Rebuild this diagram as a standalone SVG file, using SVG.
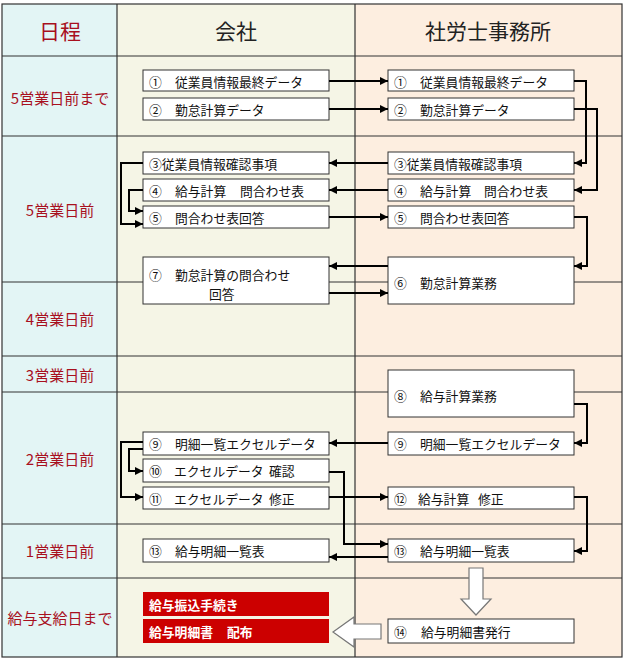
<svg xmlns="http://www.w3.org/2000/svg" width="628" height="660" viewBox="0 0 628 660">
<defs>
<style>
text{font-family:"Noto Sans CJK JP","Noto Sans",sans-serif;}
.grid{stroke:#333;stroke-width:1.2;fill:none;}
.box{fill:#fff;stroke:#333;stroke-width:1;}
.red{fill:#cc0000;stroke:none;}
.t{font-size:12.8px;fill:#111;dominant-baseline:central;}
.tw{font-size:12.8px;fill:#fff;font-weight:bold;dominant-baseline:central;}
.hd{font-size:21px;fill:#222;text-anchor:middle;dominant-baseline:central;}
.day{font-size:15px;fill:#a8101e;text-anchor:middle;dominant-baseline:central;}
.con{stroke:#000;stroke-width:2;fill:none;marker-end:url(#ah);}
.hollow{fill:#fff;stroke:#777;stroke-width:1.2;}
</style>
<marker id="ah" viewBox="0 0 10 10" refX="10" refY="5" markerUnits="userSpaceOnUse" markerWidth="8" markerHeight="10" orient="auto">
<path d="M0,0 L10,5 L0,10 z" fill="#000"/>
</marker>
</defs>

<g id="table">
<rect x="2" y="4" width="115" height="653" fill="#e3f5f5"/>
<rect x="117" y="4" width="238" height="653" fill="#f5f5e6"/>
<rect x="355" y="4" width="267" height="653" fill="#fdeee0"/>
<rect x="2" y="4" width="620" height="653" class="grid"/>
<path class="grid" d="M117,4 V657 M355,4 V657 M2,56 H622 M2,136 H622 M2,282 H622 M2,356 H622 M2,392 H622 M2,524 H622 M2,578 H622"/>
<text class="hd" x="60" y="30" style="fill:#a8101e">日程</text>
<text class="hd" x="236" y="30">会社</text>
<text class="hd" x="488" y="30">社労士事務所</text>
<text class="day" x="60" y="97">5営業日前まで</text>
<text class="day" x="60" y="209">5営業日前</text>
<text class="day" x="60" y="318">4営業日前</text>
<text class="day" x="60" y="374">3営業日前</text>
<text class="day" x="60" y="458">2営業日前</text>
<text class="day" x="60" y="550">1営業日前</text>
<text class="day" x="60" y="617">給与支給日まで</text>
</g>

<g id="c1"><rect class="box" x="143" y="70" width="186" height="21"/><text class="t" x="149" y="81">①</text><text class="t" x="175" y="81">従業員情報最終データ</text></g>
<g id="c2"><rect class="box" x="143" y="98" width="186" height="22"/><text class="t" x="149" y="109">②</text><text class="t" x="175" y="109">勤怠計算データ</text></g>
<g id="s1"><rect class="box" x="388" y="70" width="186" height="21"/><text class="t" x="394" y="81">①</text><text class="t" x="420" y="81">従業員情報最終データ</text></g>
<g id="s2"><rect class="box" x="388" y="98" width="186" height="22"/><text class="t" x="394" y="109">②</text><text class="t" x="420" y="109">勤怠計算データ</text></g>

<g id="c3"><rect class="box" x="143" y="152" width="186" height="22"/><text class="t" x="149" y="163">③従業員情報確認事項</text></g>
<g id="c4"><rect class="box" x="143" y="179" width="186" height="22"/><text class="t" x="149" y="190">④</text><text class="t" x="175" y="190">給与計算</text><text class="t" x="240" y="190">問合わせ表</text></g>
<g id="c5"><rect class="box" x="143" y="206" width="186" height="22"/><text class="t" x="149" y="217">⑤</text><text class="t" x="175" y="217">問合わせ表回答</text></g>
<g id="s3"><rect class="box" x="388" y="152" width="186" height="22"/><text class="t" x="394" y="163">③従業員情報確認事項</text></g>
<g id="s4"><rect class="box" x="388" y="179" width="186" height="22"/><text class="t" x="394" y="190">④</text><text class="t" x="420" y="190">給与計算</text><text class="t" x="484" y="190">問合わせ表</text></g>
<g id="s5"><rect class="box" x="388" y="206" width="186" height="22"/><text class="t" x="394" y="217">⑤</text><text class="t" x="420" y="217">問合わせ表回答</text></g>

<g id="c7"><rect class="box" x="143" y="257" width="186" height="47"/><text class="t" x="149" y="274">⑦</text><text class="t" x="175" y="274">勤怠計算の問合わせ</text><text class="t" x="209" y="293">回答</text></g>
<g id="s6"><rect class="box" x="388" y="257" width="186" height="47"/><text class="t" x="394" y="282">⑥</text><text class="t" x="420" y="282">勤怠計算業務</text></g>

<g id="s8"><rect class="box" x="388" y="370" width="186" height="47"/><text class="t" x="394" y="395">⑧</text><text class="t" x="420" y="395">給与計算業務</text></g>

<g id="c9"><rect class="box" x="143" y="432" width="186" height="23"/><text class="t" x="149" y="443">⑨</text><text class="t" x="175" y="443">明細一覧エクセルデータ</text></g>
<g id="s9"><rect class="box" x="388" y="432" width="186" height="23"/><text class="t" x="394" y="443">⑨</text><text class="t" x="420" y="443">明細一覧エクセルデータ</text></g>
<g id="c10"><rect class="box" x="143" y="459" width="186" height="23"/><text class="t" x="149" y="470">⑩</text><text class="t" x="174" y="470">エクセルデータ</text><text class="t" x="269" y="470">確認</text></g>
<g id="c11"><rect class="box" x="143" y="487" width="186" height="22"/><text class="t" x="149" y="498">⑪</text><text class="t" x="174" y="498">エクセルデータ</text><text class="t" x="269" y="498">修正</text></g>
<g id="s12"><rect class="box" x="388" y="487" width="186" height="22"/><text class="t" x="394" y="498">⑫</text><text class="t" x="418" y="498">給与計算</text><text class="t" x="478" y="498">修正</text></g>

<g id="c13"><rect class="box" x="143" y="539" width="186" height="23"/><text class="t" x="149" y="550">⑬</text><text class="t" x="175" y="550">給与明細一覧表</text></g>
<g id="s13"><rect class="box" x="388" y="539" width="186" height="23"/><text class="t" x="394" y="550">⑬</text><text class="t" x="420" y="550">給与明細一覧表</text></g>

<g id="c15"><rect class="red" x="143" y="592" width="186" height="24"/><text class="tw" x="149" y="604">給与振込手続き</text></g>
<g id="c16"><rect class="red" x="143" y="619" width="186" height="24"/><text class="tw" x="149" y="631">給与明細書</text><text class="tw" x="227" y="631">配布</text></g>
<g id="s14"><rect class="box" x="388" y="619" width="186" height="24"/><text class="t" x="394" y="631">⑭</text><text class="t" x="421" y="631">給与明細書発行</text></g>

<g id="connectors">
<path class="con" d="M329,81 H388"/>
<path class="con" d="M329,109 H388"/>
<path class="con" d="M574,81 H586 V163 H574"/>
<path class="con" d="M574,109 H597 V190 H574"/>
<path class="con" d="M388,163 H329"/>
<path class="con" d="M388,190 H329"/>
<path class="con" d="M143,163 H121 V224 H143"/>
<path class="con" d="M143,190 H129 V211 H143"/>
<path class="con" d="M329,217 H388"/>
<path class="con" d="M574,217 H587 V266 H574"/>
<path class="con" d="M388,266 H329"/>
<path class="con" d="M329,293 H388"/>
<path class="con" d="M574,404 H587 V443 H574"/>
<path class="con" d="M388,443 H329"/>
<path class="con" d="M143,442 H121 V497 H143"/>
<path class="con" d="M143,449 H129 V471 H143"/>
<path class="con" d="M329,472 H344 V544 H388"/>
<path class="con" d="M329,497 H388"/>
<path class="con" d="M574,497 H587 V551 H574"/>
<path class="con" d="M388,557 H329"/>
<polygon class="hollow" points="469,568 483,568 483,599 491,599 476,615 461,599 469,599"/>
<polygon class="hollow" points="381,624 354,624 354,617 333,632 354,647 354,639 381,639"/>
</g>
</svg>
